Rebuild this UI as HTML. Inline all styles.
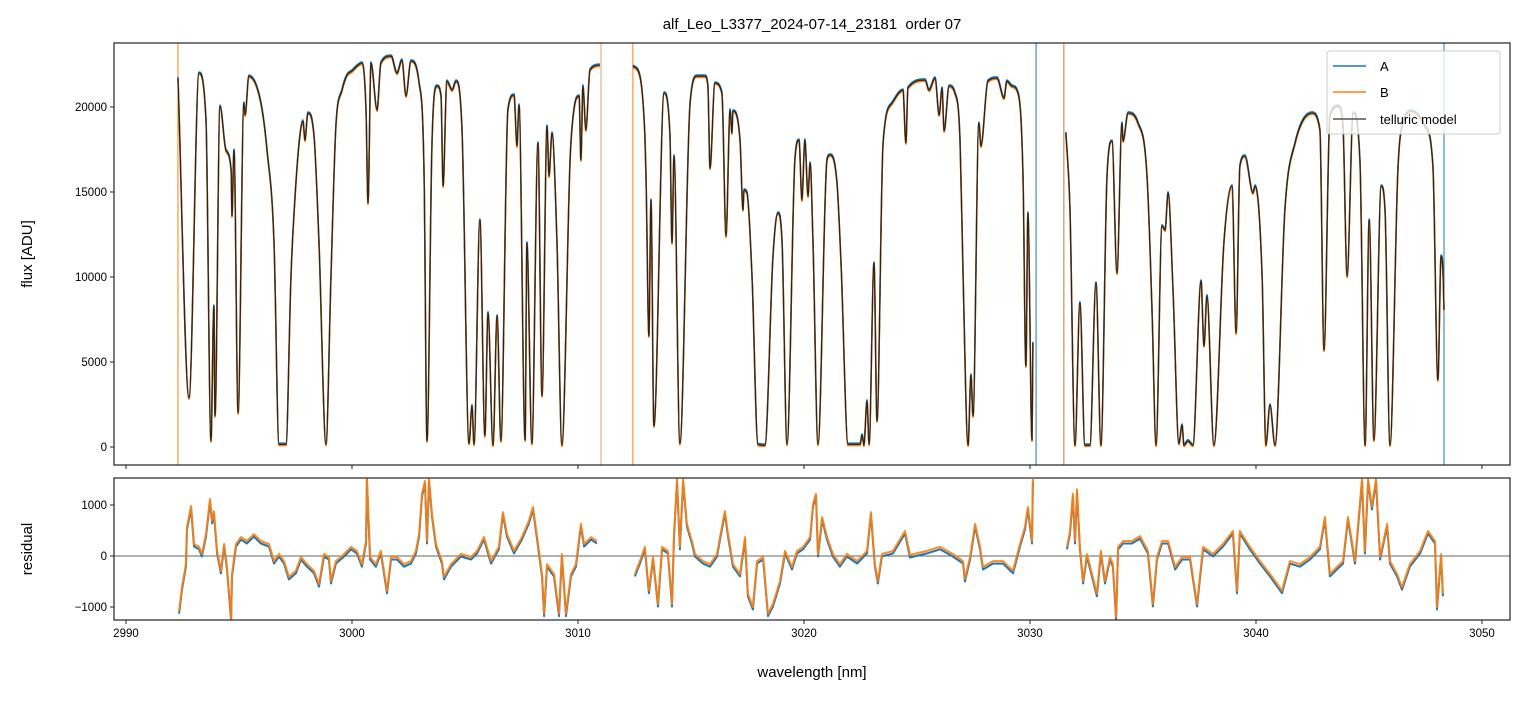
<!DOCTYPE html>
<html><head><meta charset="utf-8">
<style>
body{margin:0;background:#fff;}
svg text{font-family:"Liberation Sans","DejaVu Sans",sans-serif;fill:#000;}
</style></head>
<body>
<svg id="fig" width="1523" height="696" xmlns="http://www.w3.org/2000/svg">
<defs>
<clipPath id="clipTop"><rect x="114" y="43" width="1396" height="422"/></clipPath>
<clipPath id="clipBot"><rect x="114" y="478" width="1396" height="142"/></clipPath>
</defs>
<rect width="1523" height="696" fill="#fff"/>
<text x="812" y="29" font-size="15" text-anchor="middle" style="white-space:pre">alf_Leo_L3377_2024-07-14_23181  order 07</text>
<g id="panelTop"></g>
<g id="panelBot"></g>
<text transform="translate(32,254) rotate(-90)" font-size="15" text-anchor="middle">flux [ADU]</text>
<text transform="translate(32,549) rotate(-90)" font-size="15" text-anchor="middle">residual</text>
<text x="812" y="677" font-size="15" text-anchor="middle">wavelength [nm]</text>
<g id="legend">
<rect x="1327" y="51" width="173" height="83" rx="3" fill="#fff" fill-opacity="0.8" stroke="#ccc"/>
<g><line x1="1333" y1="66" x2="1366" y2="66" stroke="#1f77b4" stroke-width="1.5"/><text x="1380" y="71" font-size="13">A</text></g>
<g><line x1="1333" y1="92" x2="1366" y2="92" stroke="#ff7f0e" stroke-width="1.5"/><text x="1380" y="97" font-size="13">B</text></g>
<g><line x1="1333" y1="119" x2="1366" y2="119" stroke="#555" stroke-width="1.5"/><text x="1380" y="124" font-size="13">telluric model</text></g>
</g>
</svg>
<script>
const wave=[2992.30,2992.79,2993.23,2993.54,2993.76,2993.89,2993.94,2994.16,2994.42,2994.65,2994.69,2994.78,2994.96,2995.22,2995.27,2995.44,2995.97,2996.24,2996.55,2996.77,2997.08,2997.30,2997.43,2997.66,2997.83,2997.92,2998.05,2998.32,2998.54,2998.85,2999.07,2999.29,2999.56,2999.78,3000.00,3000.22,3000.44,3000.62,3000.71,3000.84,3001.11,3001.28,3001.73,3001.99,3002.21,3002.39,3002.61,3002.97,3003.19,3003.32,3003.54,3003.76,3003.94,3004.03,3004.20,3004.43,3004.60,3004.87,3005.18,3005.31,3005.40,3005.66,3005.88,3006.02,3006.24,3006.42,3006.59,3006.90,3007.17,3007.30,3007.39,3007.66,3007.74,3007.96,3008.23,3008.41,3008.63,3008.72,3008.85,3009.07,3009.29,3009.65,3009.82,3010.05,3010.13,3010.22,3010.35,3010.53,3010.97,
null,
3012.43,3012.74,3012.96,3013.01,3013.14,3013.23,3013.36,3013.81,3014.07,3014.16,3014.25,3014.51,3014.96,3015.27,3015.62,3015.75,3015.84,3016.06,3016.37,3016.55,3016.73,3016.81,3016.86,3017.17,3017.30,3017.35,3017.48,3017.70,3017.96,3018.27,3018.63,3018.85,3019.03,3019.25,3019.60,3019.78,3019.91,3020.04,3020.18,3020.27,3020.40,3020.62,3021.02,3021.15,3021.46,3021.64,3021.95,3022.48,3022.57,3022.65,3022.79,3022.88,3023.10,3023.23,3023.50,3023.90,3024.38,3024.51,3024.60,3025.36,3025.53,3025.80,3025.98,3026.11,3026.20,3026.42,3026.68,3026.91,3027.04,3027.26,3027.39,3027.48,3027.74,3027.83,3028.14,3028.54,3028.85,3028.98,3029.20,3029.47,3029.69,3029.82,3029.91,3030.09,3030.13,
null,
3031.59,3031.77,3031.99,3032.21,3032.43,3032.65,3032.92,3033.14,3033.41,3033.63,3033.85,3034.07,3034.12,3034.34,3034.78,3035.18,3035.40,3035.58,3035.84,3035.98,3036.11,3036.33,3036.59,3036.73,3036.81,3036.99,3037.21,3037.57,3037.70,3037.83,3038.14,3038.58,3038.94,3039.12,3039.29,3039.51,3039.87,3039.96,3040.27,3040.44,3040.62,3040.84,3041.28,3041.73,3042.48,3042.83,3043.01,3043.27,3043.63,3043.85,3044.03,3044.30,3044.60,3044.83,3045.01,3045.22,3045.54,3045.71,3045.93,3046.28,3046.50,3046.90,3047.48,3047.83,3048.05,3048.19,3048.27,3048.32];
const fluxA=[21700,2880,21990,19230,350,8290,1820,20050,17460,16290,13580,17460,2000,20230,19520,21810,20230,17460,12000,150,150,10050,13580,17880,19170,18050,19640,18290,12000,150,10050,18870,20990,21870,22110,22400,22580,19820,14350,22580,19820,22580,22990,21990,22760,20640,22700,21400,15930,350,17880,21230,20640,15350,21520,20990,21520,18640,200,2410,150,13350,650,7880,100,7700,350,19820,20700,17700,20110,400,12000,200,17880,3000,18870,15930,18460,12000,100,16880,19820,20640,16880,21230,18640,22170,22460,
null,
22400,21810,18290,15930,6530,14520,1230,20820,18290,12000,17110,200,20230,21810,21810,21230,16400,21400,20820,12410,19820,18460,19760,18050,13940,15110,14940,10050,150,100,11230,13760,12000,150,16880,18050,14520,18050,14760,16700,12000,150,16880,17170,15520,10820,150,150,700,100,2700,150,10820,1530,17880,20230,20990,17880,21110,21580,20990,21700,19520,21110,18580,21230,20820,17880,10050,100,4230,1820,19050,17700,21520,21700,20520,21520,21230,20820,15930,4760,13760,400,6120,
null,
18460,13940,100,8470,100,100,9640,100,15930,17990,10230,19050,17990,19640,19050,15930,8060,100,13000,12760,14940,9230,200,1290,100,350,100,9760,5940,8880,100,12000,15350,6700,16520,17110,14940,15350,10050,100,2470,100,13940,17880,19640,18640,5700,19460,20050,18870,10050,19640,16880,100,13350,400,15350,13940,100,16290,19050,19760,18870,16520,3940,11230,10410,8060];
const fluxB=fluxA;
const model=fluxA;
const edgeWaves=[2992.30,3011.02,3012.43,3030.27,3031.50,3048.32];
const edgeColors=['#ff7f0e','#e0a070','#ff7f0e','#1f77b4','#c08040','#1f77b4'];
const resWave=[2992.35,2992.48,2992.65,2992.70,2992.88,2993.01,2993.23,2993.36,2993.54,2993.72,2993.81,2993.89,2994.03,2994.20,2994.34,2994.47,2994.65,2994.69,2994.87,2995.09,2995.35,2995.66,2995.97,2996.33,2996.55,2996.77,2996.99,2997.21,2997.52,2997.74,2998.01,2998.32,2998.54,2998.76,2998.98,2999.07,2999.29,2999.65,2999.96,3000.22,3000.44,3000.62,3000.66,3000.80,3001.06,3001.28,3001.55,3001.73,3001.99,3002.30,3002.61,3002.83,3002.97,3003.10,3003.23,3003.32,3003.41,3003.54,3003.72,3003.98,3004.07,3004.38,3004.82,3005.27,3005.53,3005.84,3006.15,3006.50,3006.68,3006.86,3007.17,3007.52,3007.83,3008.01,3008.19,3008.41,3008.50,3008.63,3008.94,3009.16,3009.29,3009.47,3009.69,3009.91,3010.13,3010.27,3010.58,3010.84,
null,
3012.52,3012.74,3012.96,3013.14,3013.32,3013.54,3013.72,3013.98,3014.16,3014.25,3014.38,3014.51,3014.65,3014.82,3015.04,3015.18,3015.53,3015.84,3016.15,3016.37,3016.50,3016.64,3016.86,3017.17,3017.39,3017.52,3017.74,3017.92,3018.19,3018.41,3018.63,3018.94,3019.16,3019.47,3019.69,3019.96,3020.27,3020.40,3020.53,3020.62,3020.80,3021.02,3021.28,3021.59,3021.90,3022.35,3022.79,3022.96,3023.14,3023.27,3023.45,3023.94,3024.47,3024.69,3025.44,3026.02,3026.59,3027.04,3027.12,3027.35,3027.57,3027.79,3027.92,3028.36,3028.81,3029.25,3029.56,3029.78,3029.91,3030.09,3030.13,
null,
3031.64,3031.77,3031.90,3031.99,3032.08,3032.21,3032.35,3032.52,3032.74,3032.96,3033.14,3033.32,3033.54,3033.67,3033.81,3033.90,3034.12,3034.51,3034.87,3035.22,3035.44,3035.62,3035.84,3036.11,3036.42,3036.73,3037.08,3037.39,3037.66,3038.10,3038.54,3038.98,3039.16,3039.29,3039.73,3040.18,3040.62,3041.15,3041.50,3041.95,3042.39,3042.83,3043.05,3043.27,3043.58,3043.85,3044.07,3044.38,3044.69,3044.82,3044.96,3045.13,3045.31,3045.49,3045.80,3045.93,3046.24,3046.46,3046.81,3047.26,3047.61,3047.92,3048.01,3048.19,3048.27];
const resA=[-1100,-630,-180,550,960,215,160,20,410,1100,670,860,80,-310,215,-235,-1255,-370,215,350,275,410,275,215,-120,20,-120,-430,-310,-40,-180,-310,-570,20,-40,-510,-120,20,160,80,-180,275,1530,-40,-180,80,-700,-40,-40,-180,-120,80,410,1200,1450,275,1500,800,215,-120,-430,-180,20,-40,80,350,-120,160,840,410,80,350,670,940,350,-370,-1150,-180,-370,-1150,20,-1150,-370,-180,610,215,350,275,
null,
-370,-120,160,-700,-40,-960,160,80,-960,410,1490,160,1490,610,275,20,-120,-180,20,550,860,410,-180,-370,350,-760,-1020,-120,-40,-1150,-960,-510,80,-235,80,160,350,1000,1200,20,745,350,20,-180,20,-120,80,840,-180,-510,20,80,470,0,80,160,20,-120,-470,-40,610,160,-235,-120,-120,-310,215,550,940,275,1490,
null,
160,470,1200,275,1290,160,-510,20,-370,-760,80,-510,-40,-180,-1220,160,275,275,370,80,-960,-40,275,275,-235,-40,-40,-960,160,20,215,470,-700,470,160,-120,-370,-700,-120,-180,-40,160,745,-370,-235,-120,745,-120,1490,80,1490,940,1490,-40,610,-120,-370,-630,-180,80,470,275,-1020,20,-760];
const resB=resA;
const xTicks=[2990,3000,3010,3020,3030,3040,3050];
const yTicksTop=[0,5000,10000,15000,20000];
const yTicksBot=[-1000,0,1000];

const NS='http://www.w3.org/2000/svg';
const PL=114,PR=1510,XMIN=2989.47,XMAX=3051.24;
const xs=v=>PL+(v-XMIN)/(XMAX-XMIN)*(PR-PL);
const T1=43,B1=465,Y1MIN=-1059,Y1MAX=23765;
const y1=v=>B1-(v-Y1MIN)/(Y1MAX-Y1MIN)*(B1-T1);
const T2=478,B2=620,Y2MIN=-1255,Y2MAX=1529;
const y2=v=>B2-(v-Y2MIN)/(Y2MAX-Y2MIN)*(B2-T2);
function mk(tag,attrs,parent){const e=document.createElementNS(NS,tag);for(const k in attrs)e.setAttribute(k,attrs[k]);parent.appendChild(e);return e;}
// monotone cubic (Fritsch-Carlson) path through each non-null segment
function segPath(P){
 const n=P.length;if(n<2)return '';
 const dx=[],m=[],t=new Array(n);
 for(let i=0;i<n-1;i++){dx[i]=P[i+1][0]-P[i][0];m[i]=dx[i]?(P[i+1][1]-P[i][1])/dx[i]:0;}
 t[0]=m[0];t[n-1]=m[n-2];
 for(let i=1;i<n-1;i++){t[i]=(m[i-1]*m[i]<=0)?0:(m[i-1]+m[i])/2;}
 for(let i=0;i<n-1;i++){if(m[i]===0){t[i]=0;t[i+1]=0;continue;}const a=t[i]/m[i],b=t[i+1]/m[i],s=a*a+b*b;if(s>9){const k=3/Math.sqrt(s);t[i]=k*a*m[i];t[i+1]=k*b*m[i];}}
 let d='M'+P[0][0].toFixed(1)+','+P[0][1].toFixed(1);
 for(let i=0;i<n-1;i++){const h=dx[i]/3;d+='C'+(P[i][0]+h).toFixed(1)+','+(P[i][1]+t[i]*h).toFixed(1)+' '+(P[i+1][0]-h).toFixed(1)+','+(P[i+1][1]-t[i+1]*h).toFixed(1)+' '+P[i+1][0].toFixed(1)+','+P[i+1][1].toFixed(1);}
 return d;
}
function pathD(xv,yv,fy,smooth){
 let d='',seg=[];const n=Math.min(xv.length,yv.length);
 const flush=()=>{if(seg.length){d+=smooth?segPath(seg):seg.map((q,i)=>(i?'L':'M')+q[0].toFixed(1)+','+q[1].toFixed(1)).join('');}seg=[];};
 for(let i=0;i<n;i++){if(xv[i]==null||yv[i]==null){flush();continue;}seg.push([xs(xv[i]),fy(yv[i])]);}
 flush();return d;
}
const panelTop=document.getElementById('panelTop'),panelBot=document.getElementById('panelBot');

// top panel
const gTop=mk('g',{'clip-path':'url(#clipTop)'},panelTop);
edgeWaves.forEach((w,i)=>{
 const el=mk('line',{x1:xs(w),x2:xs(w),y1:T1,y2:B1,stroke:edgeColors[i],'stroke-width':1},gTop);
 
 
});
let p=mk('path',{d:pathD(wave,fluxA,v=>y1(v)-1.2,true),fill:'none',stroke:'#1f77b4','stroke-width':1.6,'stroke-linejoin':'round'},gTop);


p=mk('path',{d:pathD(wave,fluxB,v=>y1(v)+1.2,true),fill:'none',stroke:'#ff7f0e','stroke-width':1.6,'stroke-linejoin':'round'},gTop);


p=mk('path',{d:pathD(wave,model,y1,true),fill:'none',stroke:'#1a1a1a','stroke-opacity':0.9,'stroke-width':1.3,'stroke-linejoin':'round'},gTop);


mk('rect',{x:PL,y:T1,width:PR-PL,height:B1-T1,fill:'none',stroke:'#222','stroke-width':1.2},panelTop);
yTicksTop.forEach(v=>{
 mk('line',{x1:PL-4,x2:PL,y1:y1(v),y2:y1(v),stroke:'#222'},panelTop);
 const t=mk('text',{x:PL-7,y:y1(v)+4,'font-size':11.5,'text-anchor':'end'},panelTop);
 t.textContent=v;
 
 
});
xTicks.forEach(v=>{mk('line',{x1:xs(v),x2:xs(v),y1:B1,y2:B1+4,stroke:'#222'},panelTop);});

// bottom panel
const gBot=mk('g',{'clip-path':'url(#clipBot)'},panelBot);
mk('line',{x1:PL,x2:PR,y1:y2(0),y2:y2(0),stroke:'#666','stroke-width':0.9},gBot);
p=mk('path',{d:pathD(resWave,resA,v=>y2(v)+1.5,false),fill:'none',stroke:'#1f77b4','stroke-width':2,'stroke-linejoin':'round'},gBot);


p=mk('path',{d:pathD(resWave,resB,v=>y2(v)-1,false),fill:'none',stroke:'#ff7f0e','stroke-opacity':0.9,'stroke-width':2,'stroke-linejoin':'round'},gBot);


mk('rect',{x:PL,y:T2,width:PR-PL,height:B2-T2,fill:'none',stroke:'#222','stroke-width':1.2},panelBot);
yTicksBot.forEach(v=>{
 mk('line',{x1:PL-4,x2:PL,y1:y2(v),y2:y2(v),stroke:'#222'},panelBot);
 const t=mk('text',{x:PL-7,y:y2(v)+4,'font-size':11.5,'text-anchor':'end'},panelBot);
 t.textContent=v===-1000?'\u22121000':String(v);
 
 
});
xTicks.forEach(v=>{
 mk('line',{x1:xs(v),x2:xs(v),y1:B2,y2:B2+4,stroke:'#222'},panelBot);
 const t=mk('text',{x:xs(v),y:B2+17,'font-size':11.5,'text-anchor':'middle'},panelBot);
 t.textContent=v;
 
 
});
// legend on top of data
document.getElementById('fig').appendChild(document.getElementById('legend'));
</script>
</body></html>
